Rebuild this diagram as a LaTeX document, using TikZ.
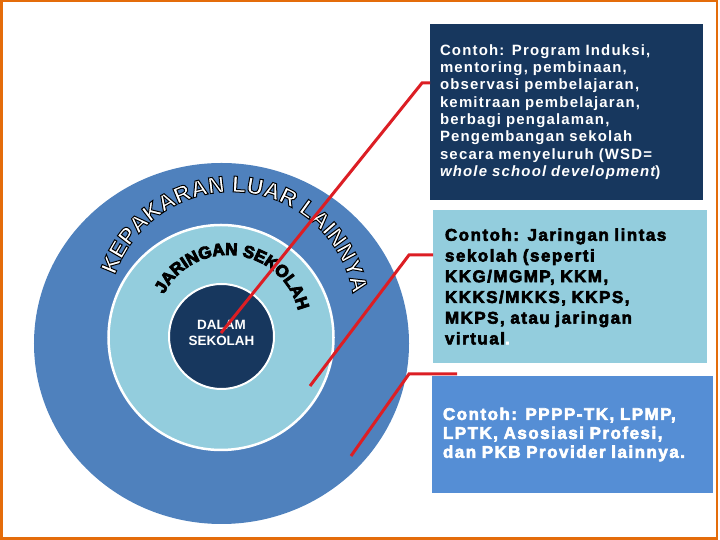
\documentclass[tikz,border=0pt]{standalone}
\usepackage{fontspec}
\setmainfont{Liberation Sans}
\newfontfamily\boxfont[LetterSpace=8]{Liberation Sans}
\newfontfamily\heavyfont[LetterSpace=9]{Liberation Sans}
\newfontfamily\rimfont{Liberation Sans}
\usetikzlibrary{shapes.geometric, decorations.text}

\definecolor{navy}{HTML}{17375E}
\definecolor{aqua}{HTML}{93CDDD}
\definecolor{ringblue}{HTML}{4F81BD}
\definecolor{boxblue}{HTML}{558ED5}
\definecolor{linkred}{HTML}{DC1E24}
\definecolor{frameorange}{HTML}{E46C0A}

% stroked glyphs: outline and heavier weight
\newcommand\rimstroke{\special{pdf:literal direct 0 G 1 w 2 Tr}}
\newcommand\heavystroke[1]{\special{pdf:literal direct #1 w 2 Tr}}

\tikzset{
  ring/.style={inner sep=0pt, outer sep=0pt},
  contoh/.style={rectangle, inner ysep=0pt, outer sep=0pt, align=left, anchor=north west},
  link/.style={draw=linkred, line width=3bp},
}

\begin{document}
\begin{tikzpicture}[x=1bp,y=1bp]
\useasboundingbox (0,0) rectangle (720,540);
\draw[frameorange, line width=2.5bp] (1.25,1.25) rectangle (716.75,538.75);

\node[ring, ellipse, fill=ringblue, minimum width=375bp, minimum height=361bp] (luar) at (221.5,196.5) {};
\node[ring, circle, fill=aqua, draw=white, line width=2.5bp, minimum size=225bp] (jaringan) at (221,202.5) {};
\node[ring, circle, fill=navy, draw=white, line width=2bp, minimum size=105bp] (dalam) at (221.5,203.5) {};
\node[text=white, font=\rimfont\bfseries\fontsize{13.5}{16}\selectfont, align=center] (dalamtext) at (221.5,207) {DALAM\\SEKOLAH};

\coordinate (rimc) at (231.5,225);
\coordinate (archc) at (228,213);
\path[decorate, decoration={text along path, text align=center,
  text={|\rimfont\bfseries\fontsize{23}{23}\selectfont\color{white}\rimstroke|KEPAKARAN LUAR LAINNYA}}]
  (rimc) ++(170:123) arc[start angle=170, end angle=1, radius=123];
\path[decorate, decoration={text along path, text align=center,
  text={|\rimfont\bfseries\fontsize{17}{17}\selectfont\color{black}\heavystroke{0.9}|JARINGAN SEKOLAH}}]
  (archc) ++(160:72) arc[start angle=160, end angle=6, radius=72];

\node[contoh, fill=navy, text=white, inner xsep=10bp, text width=253bp, minimum width=273bp, minimum height=176bp,
  font=\boxfont\bfseries\fontsize{15}{17.4}\selectfont] (induksi) at (430,516)
  {Contoh: Program Induksi,\\
   mentoring, pembinaan,\\
   observasi pembelajaran,\\
   kemitraan pembelajaran,\\
   berbagi pengalaman,\\
   Pengembangan sekolah\\
   secara menyeluruh (WSD=\\
   {\itshape whole school development})};
\node[contoh, fill=aqua, text=black, inner xsep=12bp, text width=250bp, minimum width=274bp, minimum height=153bp,
  font=\heavyfont\bfseries\fontsize{17}{20.8}\selectfont\heavystroke{0.6}] (lintas) at (433,330)
  {Contoh: Jaringan lintas\\
   sekolah (seperti\\
   KKG/MGMP, KKM,\\
   KKKS/MKKS, KKPS,\\
   MKPS, atau jaringan\\
   virtual\textcolor{white}{.}};
\node[contoh, fill=boxblue, text=white, inner xsep=11bp, text width=259bp, minimum width=281bp, minimum height=117bp,
  font=\heavyfont\bfseries\fontsize{17}{19}\selectfont\heavystroke{0.6}] (provider) at (432,164)
  {Contoh: PPPP-TK, LPMP,\\
   LPTK, Asosiasi Profesi,\\
   dan PKB Provider lainnya.};

\coordinate (p1) at (221,207);
\coordinate (k1) at (422,457);
\coordinate (p2) at (310,154);
\coordinate (k2) at (409,285);
\coordinate (p3) at (351,84);
\coordinate (k3) at (409,166);
\coordinate (e3) at (457,166);
\draw[link] (p1) -- (k1) -- (k1 -| induksi.west);
\draw[link] (p2) -- (k2) -- (k2 -| lintas.west);
\draw[link] (p3) -- (k3) -- (e3);
\end{tikzpicture}
\end{document}
